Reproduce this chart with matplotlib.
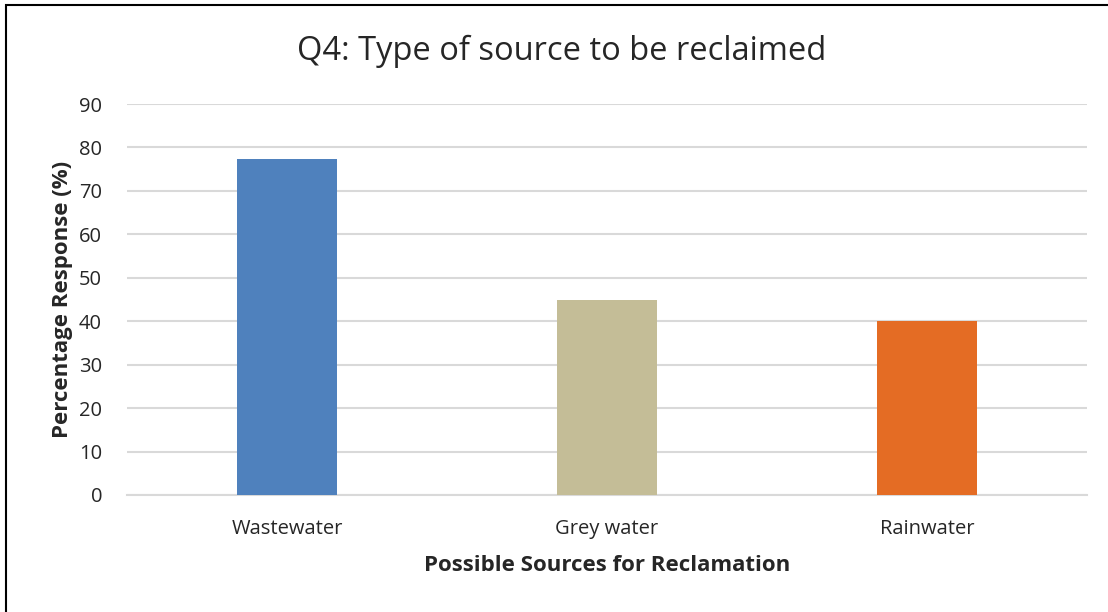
import matplotlib.pyplot as plt
from matplotlib.patches import Rectangle

# Survey responses for Q4
sources = ["Wastewater", "Grey water", "Rainwater"]
responses = [77.3, 45, 40]
barColors = ["#4f81bd", "#c4bd97", "#e46c24"]
yTicks = [0, 10, 20, 30, 40, 50, 60, 70, 80, 90]

plt.rcParams['font.family'] = ['Open Sans', 'DejaVu Sans']

fig = plt.figure(figsize=(11.08, 6.12), dpi=100)
ax = fig.add_axes([127 / 1108, 1 - 495 / 612, 960 / 1108, 391 / 612])

ax.bar(range(len(sources)), responses, width=0.315, color=barColors, zorder=3)
ax.set_xlim(-0.5, len(sources) - 0.5)
ax.set_ylim(0, 90)
ax.set_yticks(yTicks)
ax.set_xticks(range(len(sources)))
ax.set_xticklabels(sources, fontsize=14.5, color="#262626")
ax.tick_params(axis='y', labelsize=14.5, labelcolor="#262626", length=0, pad=18)
ax.tick_params(axis='x', length=0, pad=17)
ax.grid(axis='y', color="#d9d9d9", linewidth=1.5, zorder=0)
for side in ["top", "right", "left"]:
    ax.spines[side].set_visible(False)
ax.spines["bottom"].set_color("#d9d9d9")
ax.spines["bottom"].set_linewidth(1.5)

ax.set_xlabel("Possible Sources for Reclamation", fontsize=16, fontweight="bold",
              color="#262626", labelpad=12)
ax.set_ylabel("Percentage Response (%)", fontsize=16, fontweight="bold",
              color="#262626", labelpad=4)
fig.text(0.507, 1 - 51 / 612, "Q4: Type of source to be reclaimed", fontsize=23.5,
         color="#262626", ha="center", va="center")

# outer frame around the chart (only top and left visible in the original crop)
fig.patches.append(Rectangle((6 / 1108, -0.1), 1.2, 1 - 5 / 612 + 0.1, transform=fig.transFigure,
                             fill=False, edgecolor="black", linewidth=1.5))

fig.savefig("out.png", dpi=100)
